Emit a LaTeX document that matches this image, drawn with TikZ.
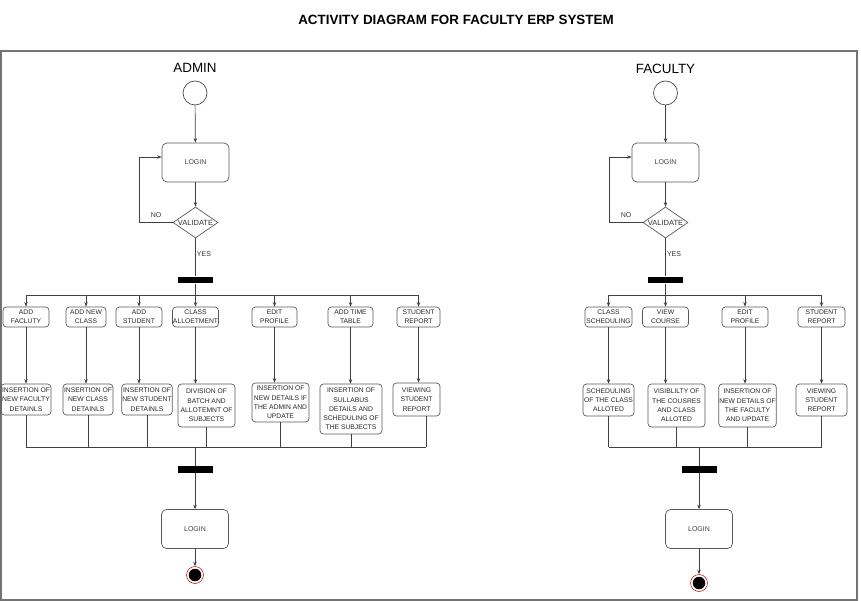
\documentclass[tikz,border=0pt]{standalone}
\usepackage{fontspec}
\setmainfont{Liberation Sans}
\usetikzlibrary{shapes.geometric,arrows.meta}

\begin{document}
\begin{tikzpicture}[x=1pt,y=-1pt,line width=0.7pt,
  >={Stealth[length=4.5pt,width=3.5pt]},
  linest/.style={draw=black!75},
  actbox/.style={draw=black!65, rounded corners=3.5pt, align=center, inner sep=0.5pt,
    text=black!85, font=\fontsize{6.75}{9.3}\selectfont},
  loginbox/.style={draw=black!65, rounded corners=5pt, minimum width=67pt, minimum height=39pt,
    inner sep=0, text=black!75, font=\fontsize{7}{8}\selectfont},
  decide/.style={diamond, draw=black!65, shape aspect=1.45, minimum width=45pt, minimum height=31pt,
    inner sep=0, text=black!80, font=\fontsize{7.5}{8}\selectfont},
  startst/.style={circle, draw=black!70, minimum size=24pt, inner sep=0},
  endring/.style={circle, draw=red!75!black, line width=0.5pt, minimum size=17pt, inner sep=0},
  enddot/.style={circle, fill=black, minimum size=12.5pt, inner sep=0},
  barst/.style={fill=black, minimum width=35pt, minimum height=6.5pt, inner sep=0},
  lbl/.style={inner sep=0, text=black!80, font=\fontsize{7}{8}\selectfont},
  role/.style={inner sep=0, font=\fontsize{13.4}{15}\selectfont}]
\useasboundingbox (0,0) rectangle (861,601);
\draw[black!55, line width=1.3pt] (1,51) rectangle (857,600);
\node[inner sep=0, font=\fontsize{13.4}{15}\bfseries] (title) at (456,20){ACTIVITY DIAGRAM FOR FACULTY ERP SYSTEM};

\node[role] (admin) at (195,68){ADMIN};
\node[startst] (as) at (195,93){};
\node[loginbox] (al1) at (195.5,162.5){LOGIN};
\node[decide] (av) at (195.5,222.5){VALIDATE};
\coordinate (ano) at (139,222.5);
\node[lbl] (anolbl) at (156,215.5){NO};
\node[lbl] (ayes) at (204,254.5){YES};
\node[barst] (ab1) at (195.5,280){};
\coordinate (ah1) at (195.5,295);
\draw[->,linest](as) -- (al1);
\draw[->,linest](al1) -- (av);
\draw[->,linest](av) -- (ano) |- ([yshift=5.5pt]al1.west);
\draw[linest](av) -- (ab1);
\draw[linest](ab1) -- (ah1);

\node[actbox, minimum width=46pt, minimum height=20pt] (a1) at (26,317){ADD\\FACLUTY};
\node[actbox, minimum width=40pt, minimum height=20pt] (a2) at (86,317){ADD NEW\\CLASS};
\node[actbox, minimum width=46pt, minimum height=20pt] (a3) at (139,317){ADD\\STUDENT};
\node[actbox, minimum width=45pt, minimum height=20pt] (a4) at (195.5,317){CLASS\\ALLOETMENT};
\node[actbox, minimum width=45pt, minimum height=20pt] (a5) at (274.5,317){EDIT\\PROFILE};
\node[actbox, minimum width=45pt, minimum height=20pt] (a6) at (350.5,317){ADD TIME\\TABLE};
\node[actbox, minimum width=43pt, minimum height=20pt] (a7) at (418.5,317){STUDENT\\REPORT};
\draw[linest](a1 |- ah1) -- (a7 |- ah1);
\draw[->,linest](a1 |- ah1) -- (a1);
\draw[->,linest](a2 |- ah1) -- (a2);
\draw[->,linest](a3 |- ah1) -- (a3);
\draw[->,linest](a4 |- ah1) -- (a4);
\draw[->,linest](a5 |- ah1) -- (a5);
\draw[->,linest](a6 |- ah1) -- (a6);
\draw[->,linest](a7 |- ah1) -- (a7);

\node[actbox, minimum width=50pt, minimum height=31pt] (b1) at (26,399.5){INSERTION OF\\NEW FACULTY\\DETAINLS};
\node[actbox, minimum width=50pt, minimum height=31pt] (b2) at (88,399.5){INSERTION OF\\NEW CLASS\\DETAINLS};
\node[actbox, minimum width=50pt, minimum height=31pt] (b3) at (147,399.5){INSERTION OF\\NEW STUDENT\\DETAINLS};
\node[actbox, minimum width=57pt, minimum height=43pt] (b4) at (206.5,405.5){DIVISION OF\\BATCH AND\\ALLOTEMNT OF\\SUBJECTS};
\node[actbox, minimum width=57pt, minimum height=39pt] (b5) at (280.5,402.5){INSERTION OF\\NEW DETAILS IF\\THE ADMIN AND\\UPDATE};
\node[actbox, minimum width=62pt, minimum height=50pt] (b6) at (351,409){INSERTION OF\\SULLABUS\\DETAILS AND\\SCHEDULING OF\\THE SUBJECTS};
\node[actbox, minimum width=47pt, minimum height=33pt] (b7) at (416.5,399.5){VIEWING\\STUDENT\\REPORT};
\draw[->,linest](a1) -- (a1 |- b1.north);
\draw[->,linest](a2) -- (a2 |- b2.north);
\draw[->,linest](a3) -- (a3 |- b3.north);
\draw[->,linest](a4) -- (a4 |- b4.north);
\draw[->,linest](a5) -- (a5 |- b5.north);
\draw[->,linest](a6) -- (a6 |- b6.north);
\draw[->,linest](a7) -- (a7 |- b7.north);

\coordinate (ah2) at (195,447);
\coordinate (ah3) at (426,447);
\draw[linest](b1 |- ah2) -- (ah3);
\draw[linest](b1) -- (b1 |- ah2);
\draw[linest](b2) -- (b2 |- ah2);
\draw[linest](b3) -- (b3 |- ah2);
\draw[linest](b4) -- (b4 |- ah2);
\draw[linest](b5) -- (b5 |- ah2);
\draw[linest](b6) -- (b6 |- ah2);
\draw[linest](b7.south -| ah3) -- (ah3);
\node[barst] (ab2) at (195,469.5){};
\node[loginbox] (al2) at (195,529){LOGIN};
\node[endring] (ae) at (195,575){};
\node[enddot] (ae2) at (ae){};
\draw[linest](ah2) -- (ab2);
\draw[->,linest](ab2) -- (al2);
\draw[->,linest](al2) -- (ae);

\node[role] (faculty) at (665.5,69){FACULTY};
\node[startst] (fs) at (665.5,93){};
\node[loginbox] (fl1) at (665.5,162.5){LOGIN};
\node[decide] (fv) at (665.5,222.5){VALIDATE};
\coordinate (fno) at (609,222.5);
\node[lbl] (fnolbl) at (626,215.5){NO};
\node[lbl] (fyes) at (674,254.5){YES};
\node[barst] (fb1) at (665.5,280){};
\coordinate (fh1) at (665.5,295);
\draw[->,linest](fs) -- (fl1);
\draw[->,linest](fl1) -- (fv);
\draw[->,linest](fv) -- (fno) |- ([yshift=5.5pt]fl1.west);
\draw[linest](fv) -- (fb1);
\draw[linest](fb1) -- (fh1);

\node[actbox, minimum width=47pt, minimum height=20pt] (f1) at (608.5,317){CLASS\\SCHEDULING};
\node[actbox, minimum width=46pt, minimum height=20pt] (f2) at (665.5,317){VIEW\\COURSE};
\node[actbox, minimum width=46pt, minimum height=20pt] (f3) at (745,317){EDIT\\PROFILE};
\node[actbox, minimum width=47pt, minimum height=20pt] (f4) at (821.5,317){STUDENT\\REPORT};
\draw[linest](f1 |- fh1) -- (f4 |- fh1);
\draw[->,linest](f1 |- fh1) -- (f1);
\draw[->,linest](f2 |- fh1) -- (f2);
\draw[->,linest](f3 |- fh1) -- (f3);
\draw[->,linest](f4 |- fh1) -- (f4);

\node[actbox, minimum width=51pt, minimum height=32pt] (g1) at (608.5,400){SCHEDULING\\OF THE CLASS\\ALLOTED};
\node[actbox, minimum width=57pt, minimum height=43pt] (g2) at (676.5,405.5){VISIBLILTY OF\\THE COUSRES\\AND CLASS\\ALLOTED};
\node[actbox, minimum width=51pt, minimum height=43pt] (g3) at (747.5,405.5){INSERTION OF\\NEW DETAILS OF\\THE FACULTY\\AND UPDATE};
\node[actbox, minimum width=51pt, minimum height=32pt] (g4) at (821.5,400){VIEWING\\STUDENT\\REPORT};
\draw[->,linest](f1) -- (f1 |- g1.north);
\draw[->,linest](f2) -- (f2 |- g2.north);
\draw[->,linest](f3) -- (f3 |- g3.north);
\draw[->,linest](f4) -- (f4 |- g4.north);

\coordinate (fh2) at (699,447);
\draw[linest](g1 |- fh2) -- (g4 |- fh2);
\draw[linest](g1) -- (g1 |- fh2);
\draw[linest](g2) -- (g2 |- fh2);
\draw[linest](g3) -- (g3 |- fh2);
\draw[linest](g4) -- (g4 |- fh2);
\node[barst] (fb2) at (699,469.5){};
\node[loginbox] (fl2) at (699,529){LOGIN};
\node[endring] (fe) at (699,583){};
\node[enddot] (fe2) at (fe){};
\draw[linest](fh2) -- (fb2);
\draw[->,linest](fb2) -- (fl2);
\draw[->,linest](fl2) -- (fe);
\end{tikzpicture}
\end{document}
